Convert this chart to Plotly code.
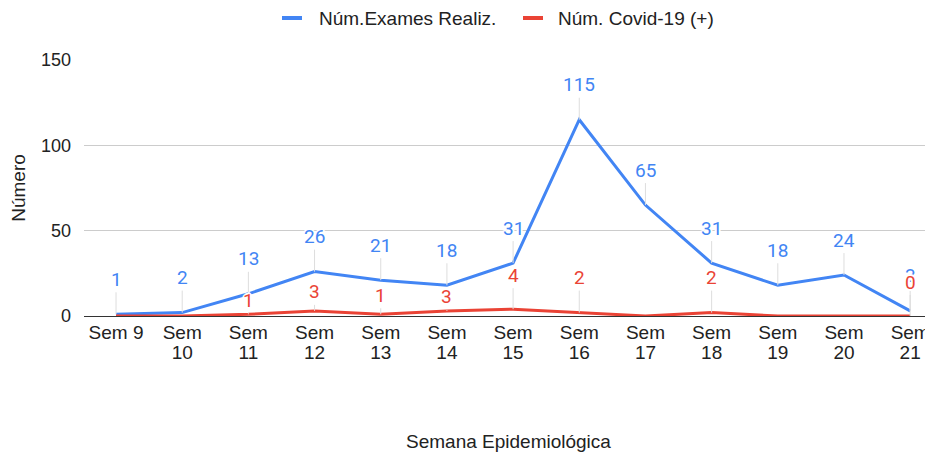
import plotly.graph_objects as go

week_nums = ["9", "10", "11", "12", "13", "14", "15", "16", "17", "18", "19", "20", "21"]
exames = [1, 2, 13, 26, 21, 18, 31, 115, 65, 31, 18, 24, 3]
covid = [0, 0, 1, 3, 1, 3, 4, 2, 0, 2, 0, 0, 0]
covid_label_shown = [False, False, True, True, True, True, True, True, False, True, False, False, True]
series_names = ["Núm.Exames Realiz.", "Núm. Covid-19 (+)"]

# tick text: first week on one line, others wrapped onto two lines
tick_line1 = ["Sem " + week_nums[0]] + ["Sem"] * (len(week_nums) - 1)
tick_line2 = [""] + week_nums[1:]

# label offsets (pixels above the point) -- styling only
blue_off = 35
red_off = [34, 34, 14, 19, 19, 14, 34, 35, 34, 35, 34, 34, 34]

BLUE = "#4285F4"
RED = "#EA4335"
TXT = "#222222"
FONT = "Liberation Sans, Arial"
xs = list(range(len(week_nums)))

# page body has an 8px margin: figure placed at (8, 8) in the window
W, H = 925, 444
L, R, T, B = 76, 1, 52, 136
PW, PH = W - L - R, H - T - B

fig = go.Figure()
fig.add_trace(go.Scatter(x=xs, y=exames, mode="lines", name=series_names[0],
                         line=dict(color=BLUE, width=3), cliponaxis=False, showlegend=False))
fig.add_trace(go.Scatter(x=xs, y=covid, mode="lines", name=series_names[1],
                         line=dict(color=RED, width=3), cliponaxis=False, showlegend=False))

halo = "-1px -1px 0 #fff, 1px -1px 0 #fff, -1px 1px 0 #fff, 1px 1px 0 #fff, 0 2px 0 #fff, 0 -2px 0 #fff, 2px 0 0 #fff, -2px 0 0 #fff"
ann = []
for i, v in enumerate(exames):
    ann.append(dict(x=i, y=v, xref="x", yref="y", text=str(v), showarrow=True,
                    ax=0, ay=-blue_off, arrowhead=0, arrowwidth=1, arrowcolor="#dddddd",
                    standoff=0, font=dict(family="Roboto", size=19, color=BLUE, shadow=halo)))
for i, v in enumerate(covid):
    if covid_label_shown[i]:
        ann.append(dict(x=i, y=v, xref="x", yref="y", text=str(v), showarrow=True,
                        ax=0, ay=-red_off[i], arrowhead=0, arrowwidth=1, arrowcolor="#dddddd",
                        standoff=0, font=dict(family="Roboto", size=19, color=RED, shadow=halo)))

# x-axis title
ann.append(dict(x=0.5, y=0, xref="paper", yref="paper", yshift=-125, yanchor="middle",
                text="Semana Epidemiológica", showarrow=False,
                font=dict(family=FONT, size=19, color=TXT)))

# legend (manual, to mimic the short thick swatches); positions in window pixels
def px_x(p):
    return (p - 8 - L) / PW
def px_y(p):
    return (H - B - (p - 8)) / PH
legend_items = [(282, 317, BLUE, series_names[0]), (523, 556, RED, series_names[1])]
shapes = []
for sx, tx, col, name in legend_items:
    shapes.append(dict(type="line", xref="paper", yref="paper", x0=px_x(sx), x1=px_x(sx + 20),
                       y0=px_y(18), y1=px_y(18), line=dict(color=col, width=4)))
    ann.append(dict(x=px_x(tx), y=px_y(18), xref="paper", yref="paper", text=name, showarrow=False,
                    xanchor="left", yanchor="middle", font=dict(family=FONT, size=19, color=TXT)))

xr = [-0.484, 12.33]
fig.update_layout(
    width=W, height=H,
    margin=dict(l=L, r=R, t=T, b=B, autoexpand=False),
    paper_bgcolor="white", plot_bgcolor="white",
    font=dict(family=FONT, size=19, color=TXT),
    annotations=ann, shapes=shapes,
    xaxis=dict(range=xr, tickmode="array", tickvals=xs, ticktext=tick_line1,
               showgrid=False, zeroline=False, showline=False, ticks="",
               tickfont=dict(size=19), ticklabelstandoff=3, automargin=False),
    xaxis2=dict(range=xr, tickmode="array", tickvals=xs, ticktext=tick_line2, overlaying="x",
                side="bottom", anchor="y", showgrid=False, zeroline=False, showline=False,
                ticks="", tickfont=dict(size=19), ticklabelstandoff=23, automargin=False),
    yaxis=dict(range=[0, 150], tickvals=[0, 50, 100, 150], showgrid=True, gridcolor="#cccccc",
               zeroline=True, zerolinecolor="#333333", zerolinewidth=1, ticks="",
               title=dict(text="Número", standoff=14, font=dict(size=19)), tickfont=dict(size=18),
               ticklabelstandoff=12, automargin=False),
)
# invisible helper trace so the second tick row axis is drawn
fig.add_trace(go.Scatter(x=[xs[0]], y=[None], xaxis="x2", yaxis="y", showlegend=False,
                         hoverinfo="skip"))

fig.write_html("out.html")
